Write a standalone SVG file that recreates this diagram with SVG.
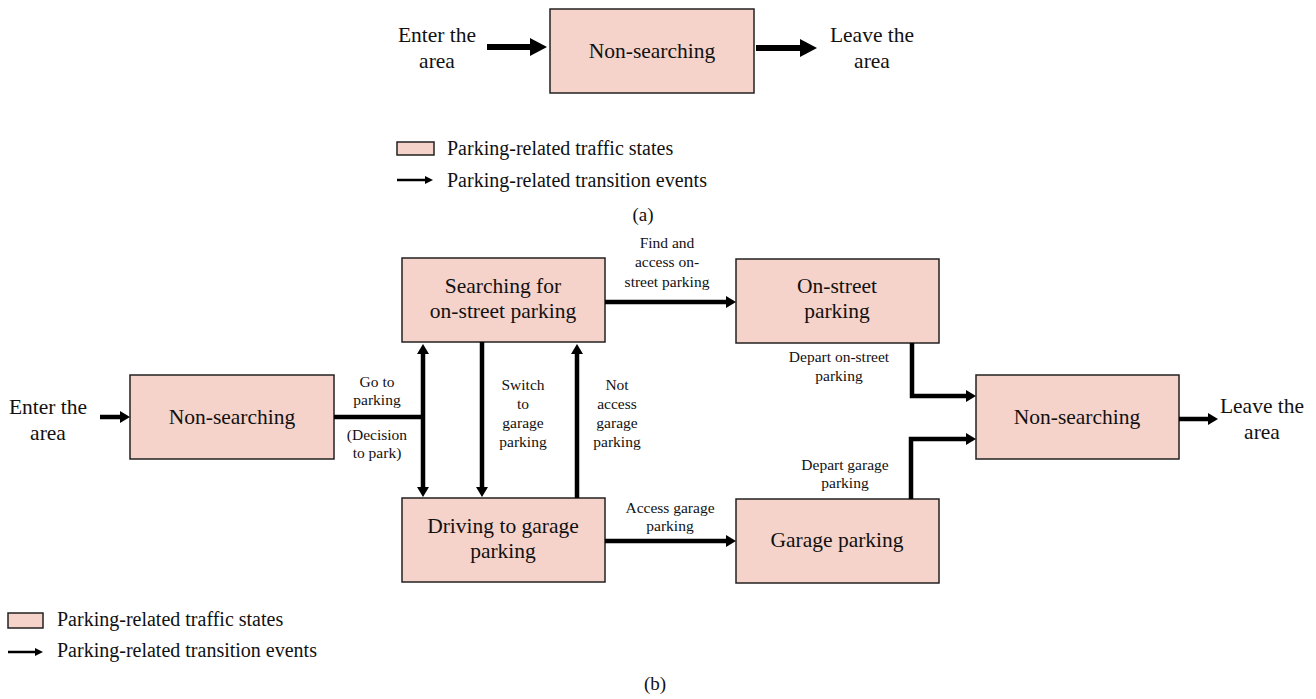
<svg xmlns="http://www.w3.org/2000/svg" width="1316" height="699" viewBox="0 0 1316 699">
<style>
.box{fill:#F5D3CB;stroke:#222;stroke-width:1.5}
.bt{font-family:"Liberation Serif",serif;font-size:21.5px;fill:#111;text-anchor:middle}
.at{font-family:"Liberation Serif",serif;font-size:21.5px;fill:#111;text-anchor:middle}
.lb{font-family:"Liberation Serif",serif;font-size:15.5px;fill:#111;text-anchor:middle}
.lg{font-family:"Liberation Serif",serif;font-size:20px;fill:#111}
.cap{font-family:"Liberation Serif",serif;font-size:19px;fill:#111;text-anchor:middle}
.c{fill:none;stroke:#000;stroke-width:4.5}
.ca{fill:none;stroke:#000;stroke-width:6}
.cs{fill:none;stroke:#000;stroke-width:2.5}
</style>
<defs>
<marker id="hA" markerUnits="userSpaceOnUse" markerWidth="17" markerHeight="18" refX="0" refY="9" orient="auto"><path d="M0,0 L17,9 L0,18 z" fill="#000"/></marker>
<marker id="hB" markerUnits="userSpaceOnUse" markerWidth="10" markerHeight="12" refX="0" refY="6" orient="auto-start-reverse"><path d="M0,0 L10,6 L0,12 z" fill="#000"/></marker>
<marker id="hS" markerUnits="userSpaceOnUse" markerWidth="8" markerHeight="8" refX="0" refY="4" orient="auto"><path d="M0,0 L8,4 L0,8 z" fill="#000"/></marker>
</defs>

<!-- (a) -->
<g id="a-enter-text"><text class="at" x="437" y="42">Enter the</text><text class="at" x="437" y="68">area</text></g>
<g id="a-nonsearching"><rect class="box" x="550" y="9" width="204" height="84"/><text class="bt" x="652" y="58">Non-searching</text></g>
<g id="a-leave-text"><text class="at" x="872" y="42">Leave the</text><text class="at" x="872" y="68">area</text></g>
<g id="a-connectors">
<line class="ca" x1="487" y1="47" x2="530" y2="47" marker-end="url(#hA)"/>
<line class="ca" x1="756" y1="48" x2="800" y2="48" marker-end="url(#hA)"/>
</g>
<g id="a-legend">
<rect class="box" x="397" y="142" width="37" height="13"/>
<text class="lg" x="447" y="155">Parking-related traffic states</text>
<line class="cs" x1="397" y1="180" x2="425" y2="180" marker-end="url(#hS)"/>
<text class="lg" x="447" y="187">Parking-related transition events</text>
<text class="cap" x="643" y="221">(a)</text>
</g>

<!-- (b) -->
<g id="b-enter-text"><text class="at" x="48" y="414">Enter the</text><text class="at" x="48" y="440">area</text></g>
<g id="b-nonsearching-left"><rect class="box" x="130" y="375" width="204" height="84"/><text class="bt" x="232" y="424">Non-searching</text></g>
<g id="b-searching"><rect class="box" x="402" y="258" width="203" height="84"/><text class="bt" x="503" y="293">Searching for</text><text class="bt" x="503" y="318">on-street parking</text></g>
<g id="b-onstreet"><rect class="box" x="736" y="259" width="203" height="84"/><text class="bt" x="837" y="293">On-street</text><text class="bt" x="837" y="318">parking</text></g>
<g id="b-driving"><rect class="box" x="402" y="498" width="203" height="84"/><text class="bt" x="503" y="533">Driving to garage</text><text class="bt" x="503" y="558">parking</text></g>
<g id="b-garage"><rect class="box" x="736" y="499" width="203" height="84"/><text class="bt" x="837" y="547">Garage parking</text></g>
<g id="b-nonsearching-right"><rect class="box" x="976" y="375" width="203" height="84"/><text class="bt" x="1077" y="424">Non-searching</text></g>
<g id="b-leave-text"><text class="at" x="1262" y="413">Leave the</text><text class="at" x="1262" y="439">area</text></g>

<g id="b-connectors">
<line class="c" x1="100" y1="417" x2="120" y2="417" marker-end="url(#hB)"/>
<polyline class="c" points="334,417 425,417"/>
<line class="c" x1="423" y1="354" x2="423" y2="487" marker-start="url(#hB)" marker-end="url(#hB)"/>
<line class="c" x1="482" y1="342" x2="482" y2="487" marker-end="url(#hB)"/>
<line class="c" x1="577" y1="498" x2="577" y2="354" marker-end="url(#hB)"/>
<line class="c" x1="605" y1="302" x2="726" y2="302" marker-end="url(#hB)"/>
<polyline class="c" points="912,343 912,396 966,396" marker-end="url(#hB)"/>
<polyline class="c" points="911,499 911,439 966,439" marker-end="url(#hB)"/>
<line class="c" x1="605" y1="541" x2="726" y2="541" marker-end="url(#hB)"/>
<line class="c" x1="1179" y1="419" x2="1208" y2="419" marker-end="url(#hB)"/>
</g>

<g id="b-labels">
<text class="lb" x="377" y="387">Go to</text><text class="lb" x="377" y="405">parking</text>
<text class="lb" x="377" y="440">(Decision</text><text class="lb" x="377" y="458">to park)</text>
<text class="lb" x="523" y="390">Switch</text><text class="lb" x="523" y="409">to</text><text class="lb" x="523" y="428">garage</text><text class="lb" x="523" y="447">parking</text>
<text class="lb" x="617" y="390">Not</text><text class="lb" x="617" y="409">access</text><text class="lb" x="617" y="428">garage</text><text class="lb" x="617" y="447">parking</text>
<text class="lb" x="667" y="248">Find and</text><text class="lb" x="667" y="267">access on-</text><text class="lb" x="667" y="287">street parking</text>
<text class="lb" x="839" y="362">Depart on-street</text><text class="lb" x="839" y="381">parking</text>
<text class="lb" x="670" y="513">Access garage</text><text class="lb" x="670" y="531">parking</text>
<text class="lb" x="845" y="470">Depart garage</text><text class="lb" x="845" y="488">parking</text>
</g>

<g id="b-legend">
<rect class="box" x="8" y="613" width="35" height="15"/>
<text class="lg" x="57" y="626">Parking-related traffic states</text>
<line class="cs" x1="8" y1="652" x2="35" y2="652" marker-end="url(#hS)"/>
<text class="lg" x="57" y="657">Parking-related transition events</text>
<text class="cap" x="655" y="690">(b)</text>
</g>
</svg>
